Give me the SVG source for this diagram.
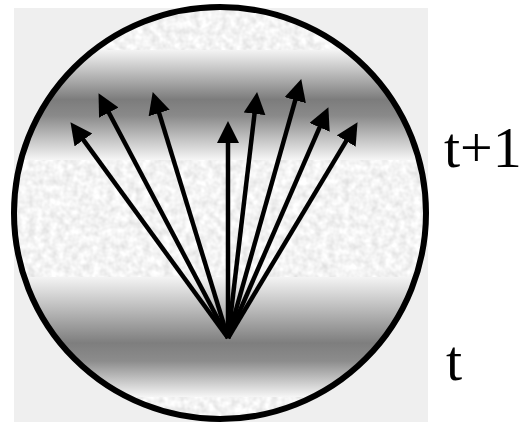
<svg xmlns="http://www.w3.org/2000/svg" width="521" height="422" viewBox="0 0 521 422">
  <defs>
    <filter id="noise" x="0" y="0" width="100%" height="100%">
      <feTurbulence type="fractalNoise" baseFrequency="0.14" numOctaves="2" seed="3"/>
      <feColorMatrix type="matrix" values="0.4 0 0 0 0.7  0.4 0 0 0 0.7  0.4 0 0 0 0.7  0 0 0 0 1"/>
    </filter>
    <linearGradient id="band1" x1="0" y1="0" x2="0" y2="1">
      <stop offset="0" stop-color="#f4f4f4"/>
      <stop offset="0.45" stop-color="#7c7c7c"/>
      <stop offset="0.6" stop-color="#8a8a8a"/>
      <stop offset="1" stop-color="#f6f6f6"/>
    </linearGradient>
    <linearGradient id="band2" x1="0" y1="0" x2="0" y2="1">
      <stop offset="0" stop-color="#f4f4f4"/>
      <stop offset="0.55" stop-color="#7e7e7e"/>
      <stop offset="0.7" stop-color="#8c8c8c"/>
      <stop offset="1" stop-color="#f6f6f6"/>
    </linearGradient>
    <clipPath id="disc">
      <circle cx="220" cy="213" r="206"/>
    </clipPath>
    <marker id="head" markerUnits="userSpaceOnUse" markerWidth="24" markerHeight="24" refX="6" refY="11" orient="auto">
      <path d="M0,0 L22,11 L0,22 Z" fill="#000"/>
    </marker>
    <style>
      .arrow { stroke: #000; stroke-width: 4.5; fill: none; marker-end: url(#head); }
      .label { font-family: "Liberation Serif", "Times New Roman", serif; font-size: 58px; fill: #000; }
    </style>
  </defs>

  <rect x="0" y="0" width="521" height="422" fill="#ffffff"/>
  <rect x="14" y="8" width="414" height="414" fill="#efefef"/>

  <g id="disc-fill" clip-path="url(#disc)">
    <rect x="10" y="0" width="420" height="422" fill="#f2f2f2"/>
    <rect x="10" y="0" width="420" height="50" filter="url(#noise)"/>
    <rect x="10" y="50" width="420" height="110" fill="url(#band1)"/>
    <rect x="10" y="160" width="420" height="117" filter="url(#noise)"/>
    <rect x="10" y="277" width="420" height="120" fill="url(#band2)"/>
    <rect x="10" y="397" width="420" height="25" filter="url(#noise)"/>
  </g>
  <g id="circle">
    <circle cx="220" cy="213" r="206" fill="none" stroke="#000" stroke-width="6"/>
  </g>

  <g id="connectors">
    <line class="arrow" x1="228" y1="338" x2="79.9" y2="135.1"/>
    <line class="arrow" x1="228" y1="338" x2="106.0" y2="107.3"/>
    <line class="arrow" x1="228" y1="338" x2="157.4" y2="107.3"/>
    <line class="arrow" x1="228" y1="338" x2="228" y2="137"/>
    <line class="arrow" x1="228" y1="338" x2="255.2" y2="107.9"/>
    <line class="arrow" x1="228" y1="338" x2="296.9" y2="94.4"/>
    <line class="arrow" x1="228" y1="338" x2="322.0" y2="121.8"/>
    <line class="arrow" x1="228" y1="338" x2="349.3" y2="135.9"/>
  </g>

  <g id="label-t1">
    <text class="label" x="444" y="167">t+1</text>
  </g>
  <g id="label-t">
    <text class="label" x="446" y="380">t</text>
  </g>
</svg>
